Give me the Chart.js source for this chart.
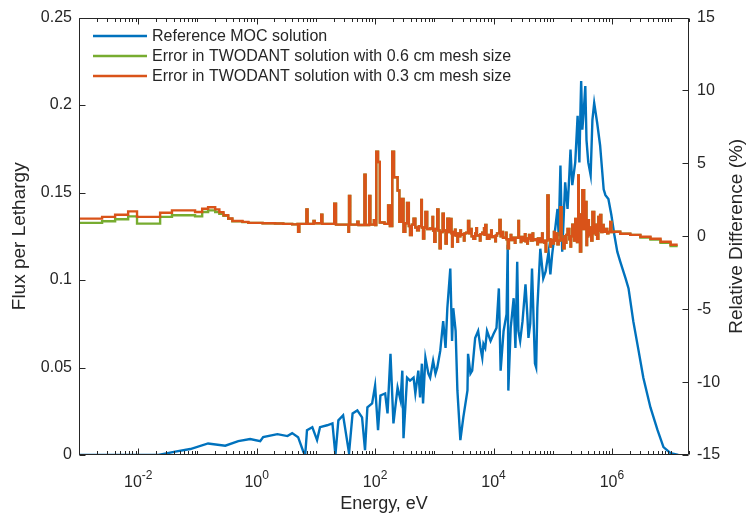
<!DOCTYPE html>
<html>
<head>
<meta charset="utf-8">
<script src="https://cdn.jsdelivr.net/npm/chart.js@4.4.1/dist/chart.umd.min.js"></script>
<style>
  html, body { margin: 0; padding: 0; background: #fff; }
</style>
</head>
<body>
<canvas id="c" width="750" height="518"></canvas>
<script>
const FONT = '"Liberation Sans", Arial, sans-serif'
const INK = '#262626'

// energies are stored as log10(E / eV)
const fluxLogE = [-3.00, -1.66, -1.375, -1.12, -0.82, -0.53, -0.31, -0.11, 0.06, 0.11, 0.35, 0.52, 0.60, 0.70, 0.79, 0.82, 0.85, 0.94, 1.02, 1.07,
  1.19, 1.28, 1.33, 1.38, 1.46, 1.56, 1.62, 1.70, 1.78, 1.83, 1.87, 1.95, 2.00, 2.05, 2.09, 2.17, 2.21, 2.26, 2.31, 2.38,
  2.43, 2.46, 2.48, 2.54, 2.59, 2.65, 2.68, 2.73, 2.76, 2.79, 2.81, 2.85, 2.90, 2.93, 2.98, 3.02, 3.05, 3.10, 3.15, 3.19,
  3.22, 3.27, 3.30, 3.32, 3.36, 3.39, 3.44, 3.49, 3.56, 3.57, 3.61, 3.64, 3.69, 3.74, 3.78, 3.81, 3.83, 3.86, 3.89, 3.95,
  4.00, 4.05, 4.09, 4.12, 4.17, 4.22, 4.24, 4.25, 4.29, 4.34, 4.37, 4.40, 4.42, 4.45, 4.49, 4.54, 4.57, 4.59, 4.62, 4.65,
  4.70, 4.72, 4.74, 4.79, 4.84, 4.88, 4.93, 4.96, 4.99, 5.03, 5.08, 5.10, 5.13, 5.16, 5.21, 5.25, 5.28, 5.30, 5.33, 5.38,
  5.42, 5.45, 5.47, 5.48, 5.50, 5.53, 5.55, 5.57, 5.60, 5.64, 5.67, 5.70, 5.75, 5.80, 5.86, 5.89, 5.94, 5.99, 6.04, 6.09,
  6.14, 6.23, 6.28, 6.36, 6.45, 6.53, 6.65, 6.77, 6.87, 6.99, 7.12]
const fluxValues = [0, 0, 0.0019, 0.0034, 0.0066, 0.0053, 0.0079, 0.0091, 0.0079, 0.0102, 0.0119, 0.0108, 0.0125, 0.0102, 0.0017, 0, 0.0142, 0.0159, 0.0085, 0.0159,
  0.0170, 0.0181, 0, 0.0198, 0.0227, 0.0011, 0.0238, 0.0255, 0.0215, 0.0028, 0.0272, 0.0295, 0.0397, 0.0142, 0.0340, 0.0352, 0.0238, 0.0578, 0.0181, 0.0386,
  0.0312, 0.0482, 0.0096, 0.0442, 0.0425, 0.0442, 0.0352, 0.0482, 0.0329, 0.0522, 0.0295, 0.0556, 0.0465, 0.0442, 0.0539, 0.0465, 0.0499, 0.0595, 0.0765, 0.0612,
  0.0839, 0.1066, 0.0652, 0.0839, 0.0709, 0.0369, 0.0085, 0.0215, 0.0369, 0.0578, 0.0465, 0.0482, 0.0669, 0.0709, 0.0612, 0.0556, 0.0635, 0.0612, 0.0709, 0.0652,
  0.0692, 0.0726, 0.0952, 0.0482, 0.0709, 0.0805, 0.1201, 0.0368, 0.0726, 0.0896, 0.0612, 0.1105, 0.0709, 0.0652, 0.0765, 0.0975, 0.0805, 0.0669, 0.0750, 0.1066,
  0.0522, 0.0500, 0.0839, 0.1179, 0.1009, 0.1049, 0.1162, 0.1032, 0.1145, 0.1259, 0.1406, 0.1250, 0.1655, 0.1162, 0.1559, 0.1406, 0.1600, 0.1746, 0.1542, 0.1672,
  0.1939, 0.1672, 0.2000, 0.2137, 0.1859, 0.2000, 0.2109, 0.1800, 0.1672, 0.1599, 0.1916, 0.2012, 0.1899, 0.1769, 0.1519, 0.1485, 0.1463, 0.1372, 0.1259, 0.1162,
  0.1105, 0.1009, 0.0952, 0.0765, 0.0595, 0.0442, 0.0272, 0.0142, 0.0045, 0.0011, 0]

// relative difference (%), 0.3 cm mesh
const err03LogE = [-3.00, -2.61, -2.39, -2.17, -2.02, -1.63, -1.43, -1.04, -0.92, -0.82, -0.70, -0.63, -0.56, -0.48, -0.41, -0.24, -0.14, 0.10, 0.31, 0.45,
  0.60, 0.69, 0.70, 0.72, 0.84, 0.86, 0.96, 0.98, 1.09, 1.11, 1.31, 1.34, 1.55, 1.56, 1.58, 1.70, 1.72, 1.82, 1.84, 1.90,
  1.92, 1.98, 2.00, 2.02, 2.05, 2.08, 2.16, 2.22, 2.25, 2.29, 2.32, 2.38, 2.41, 2.44, 2.48, 2.51, 2.54, 2.57, 2.59, 2.62,
  2.65, 2.68, 2.71, 2.74, 2.78, 2.79, 2.81, 2.83, 2.85, 2.88, 2.93, 2.97, 2.98, 3.00, 3.02, 3.05, 3.07, 3.09, 3.11, 3.14,
  3.16, 3.19, 3.21, 3.22, 3.25, 3.27, 3.29, 3.30, 3.31, 3.33, 3.35, 3.36, 3.39, 3.40, 3.42, 3.44, 3.45, 3.47, 3.50, 3.51,
  3.54, 3.57, 3.59, 3.62, 3.63, 3.66, 3.69, 3.71, 3.72, 3.74, 3.77, 3.78, 3.81, 3.84, 3.85, 3.86, 3.88, 3.89, 3.93, 3.96,
  3.97, 4.00, 4.03, 4.04, 4.06, 4.10, 4.12, 4.15, 4.16, 4.18, 4.21, 4.22, 4.24, 4.26, 4.29, 4.30, 4.32, 4.36, 4.37, 4.42,
  4.43, 4.46, 4.47, 4.50, 4.53, 4.54, 4.57, 4.58, 4.60, 4.63, 4.66, 4.67, 4.71, 4.74, 4.75, 4.79, 4.82, 4.83, 4.86, 4.88,
  4.89, 4.91, 4.93, 4.96, 4.97, 4.99, 5.02, 5.03, 5.06, 5.08, 5.10, 5.13, 5.15, 5.18, 5.20, 5.22, 5.23, 5.25, 5.28, 5.30,
  5.31, 5.33, 5.36, 5.38, 5.40, 5.41, 5.43, 5.44, 5.46, 5.48, 5.50, 5.53, 5.55, 5.57, 5.58, 5.60, 5.61, 5.63, 5.65, 5.67,
  5.70, 5.72, 5.73, 5.75, 5.77, 5.79, 5.80, 5.82, 5.84, 5.86, 5.89, 5.92, 5.94, 5.97, 5.99, 6.02, 6.14, 6.31, 6.48, 6.65,
  6.82, 6.99, 7.11]
const err03Values = [1.21, 1.33, 1.48, 1.71, 1.33, 1.62, 1.78, 1.67, 1.89, 1.99, 1.85, 1.65, 1.44, 1.22, 1.05, 0.99, 0.92, 0.90, 0.88, 0.85,
  0.82, 0.85, 0.31, 0.85, 1.85, 0.85, 1.05, 0.90, 1.48, 0.85, 2.23, 0.80, 0.31, 2.76, 0.80, 1.00, 0.78, 4.23, 0.78, 2.76,
  0.80, 1.10, 0.78, 5.80, 5.10, 0.95, 0.85, 2.12, 0.70, 5.80, 4.05, 3.14, 1.00, 2.57, 0.31, 0.90, 2.28, 0.70, 0.08, 0.80,
  1.21, 0.60, 0.42, 0.70, 2.50, 0.60, -0.15, 0.60, 1.67, 0.50, 0.53, 1.33, 0.40, -0.37, 0.50, 1.85, 0.40, -0.83, 0.30, 1.55,
  0.40, -0.49, 0.30, 1.21, 0.30, 1.19, 0.20, -0.71, 0.30, 0.10, 0.45, 0.05, -0.37, 0.20, 0.00, 0.40, 0.10, 0.15, -0.30, 0.20,
  0.25, 1.05, 0.20, 0.50, 0.00, -0.17, 0.20, 0.55, 0.05, 0.05, -0.30, 0.15, 0.25, 0.55, 0.10, 0.78, 0.10, -0.17, 0.10, 0.40,
  -0.05, 0.00, -0.35, 0.05, 0.20, 1.12, 0.00, 0.30, -0.10, -0.10, 0.25, -0.20, -0.83, -0.20, 0.10, -0.25, -0.10, -0.45, -0.10, 1.05,
  -0.10, -0.40, -0.05, -0.30, 0.15, -0.35, -0.50, -0.15, 0.10, -0.30, 0.20, -0.25, -0.20, -0.55, -0.15, -0.40, 0.20, -0.30, -0.45, -1.05,
  -0.30, 2.80, -0.20, -0.70, -0.25, -0.50, 0.30, -0.30, 0.20, -0.55, -0.30, 2.00, -0.20, -0.83, 0.00, -0.45, 0.10, 0.50, -0.20, -0.70,
  0.00, 0.80, -0.30, 1.19, 0.20, -0.40, 4.18, 1.50, -1.05, 0.50, 3.16, 0.50, 2.35, -0.60, 0.00, 1.10, 0.10, 0.60, -0.30, 1.67,
  0.20, 0.80, 0.10, -0.17, 1.33, 0.40, 1.46, 0.30, 0.78, 0.31, 0.51, 0.20, 0.30, 0.99, 0.30, 0.31, 0.17, 0.10, -0.03, -0.17,
  -0.37, -0.58, -0.58]

// relative difference (%), 0.6 cm mesh: only read separately where it is not hidden under the 0.3 cm curve
const err06LowLogE = [-3.00, -2.61, -2.39, -2.17, -2.02, -1.63, -1.43, -1.04, -0.92, -0.82, -0.70, -0.63, -0.56, -0.48, -0.41, -0.24]
const err06LowValues = [0.92, 1.03, 1.17, 1.37, 0.87, 1.33, 1.44, 1.37, 1.67, 1.78, 1.67, 1.55, 1.40, 1.20, 1.03, 0.97]
const err06TailLogE = [6.48, 6.65, 6.82, 6.99, 7.11]
const err06TailValues = [-0.08, -0.23, -0.45, -0.67, -0.67]

const seriesNames = ['Reference MOC solution', 'Error in TWODANT solution with 0.6 cm mesh size', 'Error in TWODANT solution with 0.3 cm mesh size']
const seriesColors = ['#0072BD', '#77AC30', '#D95319']
const xTickExponents = [-2, 0, 2, 4, 6]
const leftTicks = [0, 0.05, 0.1, 0.15, 0.2, 0.25]
const rightTicks = [-15, -10, -5, 0, 5, 10, 15]

const toPoints = (logE, vals) => logE.map((v, i) => ({ x: Math.pow(10, v), y: vals[i] }))

const err03Points = toPoints(err03LogE, err03Values)
const err06Points = toPoints(err06LowLogE, err06LowValues)
  .concat(err03Points.filter(p => p.x > Math.pow(10, -0.24) && p.x < Math.pow(10, 6.48)))
  .concat(toPoints(err06TailLogE, err06TailValues))

// box, inward ticks, superscript x labels, axis titles and legend, drawn like MATLAB does
const matlabAxes = {
  id: 'matlabAxes',
  afterDraw(chart) {
    const { ctx, chartArea: a, scales } = chart
    const xs = scales.x, yl = scales.y, yr = scales.y1
    const L = Math.round(a.left) + 0.5, R = Math.round(a.right) - 0.5
    const T = Math.round(a.top) + 0.5, B = Math.round(a.bottom) - 0.5
    ctx.save()
    ctx.strokeStyle = INK
    ctx.lineWidth = 1
    ctx.beginPath()
    ctx.rect(L, T, R - L, B - T)
    for (let d = -3; d <= 7; d++) {
      for (let m = 1; m <= 9; m++) {
        const v = m * Math.pow(10, d)
        if (v < xs.min || v > xs.max) continue
        const px = Math.round(xs.getPixelForValue(v)) + 0.5
        const len = (m === 1 && d % 2 === 0) ? 6 : 3.5
        ctx.moveTo(px, B); ctx.lineTo(px, B - len)
        ctx.moveTo(px, T); ctx.lineTo(px, T + len)
      }
    }
    leftTicks.forEach(v => {
      const py = Math.round(yl.getPixelForValue(v)) + 0.5
      ctx.moveTo(L, py); ctx.lineTo(L + 6, py)
    })
    rightTicks.forEach(v => {
      const py = Math.round(yr.getPixelForValue(v)) + 0.5
      ctx.moveTo(R, py); ctx.lineTo(R - 6, py)
    })
    ctx.stroke()

    // x tick labels 10^n
    ctx.fillStyle = INK
    ctx.textAlign = 'left'
    ctx.textBaseline = 'alphabetic'
    xTickExponents.forEach(e => {
      const px = xs.getPixelForValue(Math.pow(10, e))
      ctx.font = `16px ${FONT}`
      const wb = ctx.measureText('10').width
      ctx.font = `12px ${FONT}`
      const ex = String(e)
      const we = ctx.measureText(ex).width
      const x0 = px - (wb + we) / 2
      ctx.font = `16px ${FONT}`
      ctx.fillText('10', x0, 487)
      ctx.font = `12px ${FONT}`
      ctx.fillText(ex, x0 + wb, 479)
    })

    // axis titles
    ctx.textAlign = 'center'
    ctx.textBaseline = 'middle'
    ctx.font = `18px ${FONT}`
    ctx.fillText('Energy, eV', (a.left + a.right) / 2, 504)
    const midY = (a.top + a.bottom) / 2
    ctx.font = `19px ${FONT}`
    ctx.save(); ctx.translate(20, midY); ctx.rotate(-Math.PI / 2)
    ctx.fillText('Flux per Lethargy', 0, 0); ctx.restore()
    ctx.save(); ctx.translate(737, midY); ctx.rotate(-Math.PI / 2)
    ctx.fillText('Relative Difference (%)', 0, 0); ctx.restore()

    // legend
    ctx.font = `16px ${FONT}`
    ctx.textAlign = 'left'
    ctx.lineWidth = 2.4
    seriesNames.forEach((name, i) => {
      const y = 36 + i * 20
      ctx.strokeStyle = seriesColors[i]
      ctx.beginPath(); ctx.moveTo(93, y); ctx.lineTo(147, y); ctx.stroke()
      ctx.fillText(name, 152, y + 1)
    })
    ctx.restore()
  }
}

const lineStyle = { pointRadius: 0, borderWidth: 2.4, tension: 0, fill: false }

new Chart(document.getElementById('c'), {
  type: 'line',
  data: {
    datasets: [
      { ...lineStyle, label: seriesNames[0], data: toPoints(fluxLogE, fluxValues), borderColor: seriesColors[0], yAxisID: 'y', order: 3 },
      { ...lineStyle, label: seriesNames[1], data: err06Points, borderColor: seriesColors[1], yAxisID: 'y1', stepped: 'before', order: 2 },
      { ...lineStyle, label: seriesNames[2], data: err03Points, borderColor: seriesColors[2], yAxisID: 'y1', stepped: 'before', order: 1 },
    ]
  },
  options: {
    responsive: false,
    animation: false,
    layout: { padding: { top: 14, left: 0, right: 0, bottom: 0 } },
    plugins: { legend: { display: false }, tooltip: { enabled: false } },
    scales: {
      x: {
        type: 'logarithmic', min: 1e-3, max: 2e7,
        grid: { display: false }, border: { display: false },
        ticks: { display: false },
        afterFit: s => { s.height = 63 }
      },
      y: {
        position: 'left', min: 0, max: 0.25,
        grid: { display: false, drawTicks: false }, border: { display: false },
        afterBuildTicks: s => { s.ticks = leftTicks.map(v => ({ value: v })) },
        ticks: { color: INK, font: { family: FONT, size: 16 }, padding: 7, callback: v => String(+v.toFixed(2)) },
        afterFit: s => { s.width = 79 }
      },
      y1: {
        position: 'right', min: -15, max: 15,
        grid: { display: false, drawTicks: false }, border: { display: false },
        afterBuildTicks: s => { s.ticks = rightTicks.map(v => ({ value: v })) },
        ticks: { color: INK, font: { family: FONT, size: 16 }, padding: 8, callback: v => String(v) },
        afterFit: s => { s.width = 61 }
      }
    }
  },
  plugins: [matlabAxes]
})
</script>
</body>
</html>
